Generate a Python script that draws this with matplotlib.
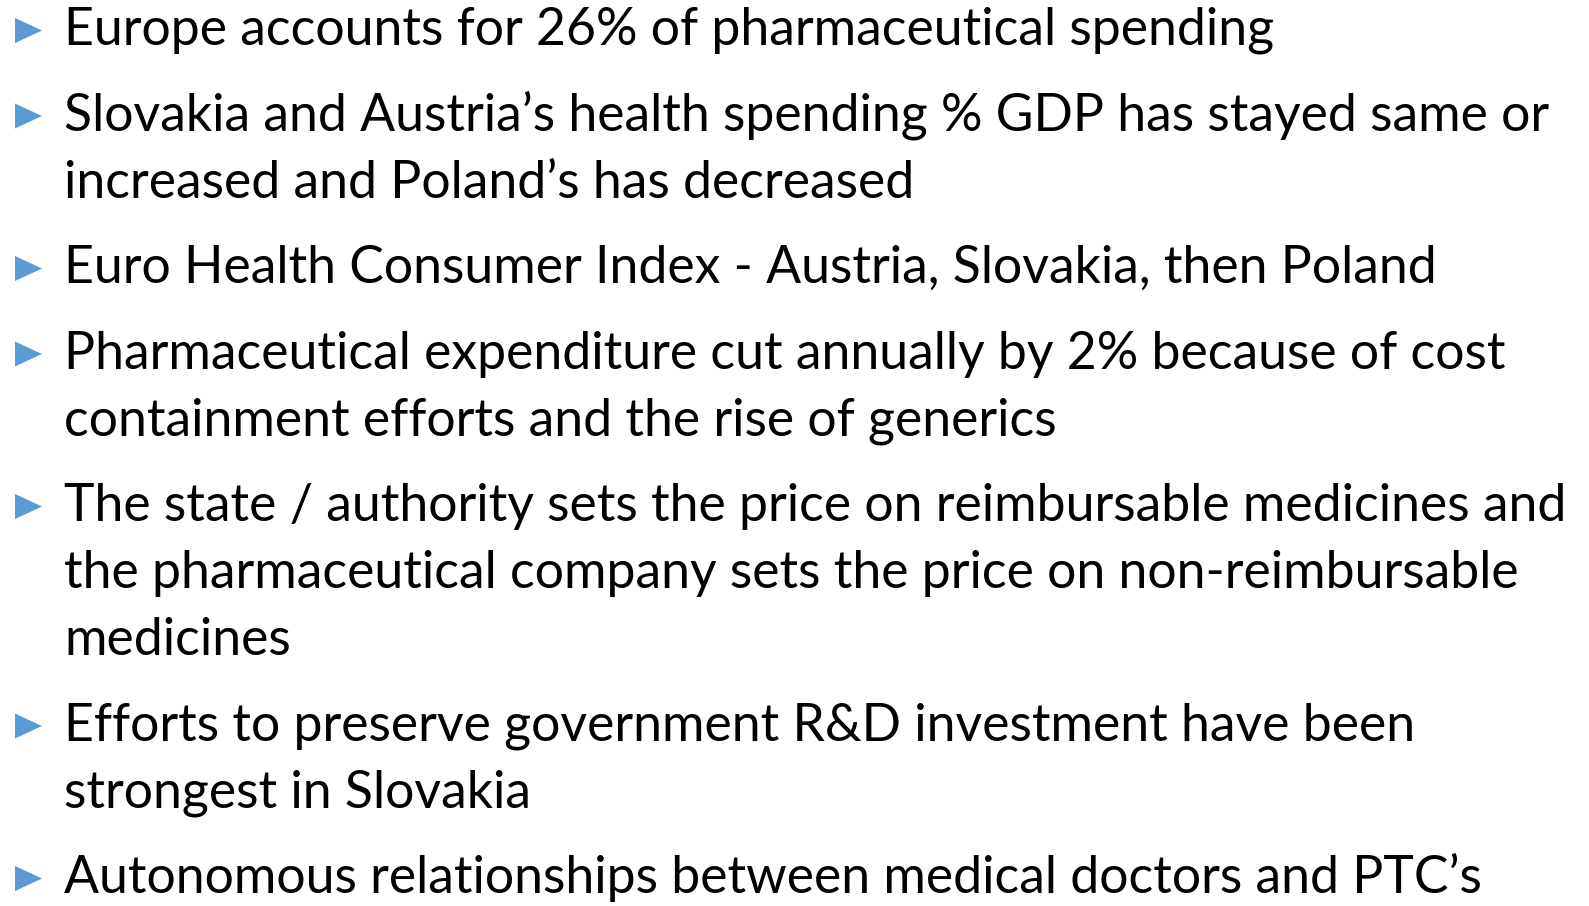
import matplotlib
matplotlib.use("Agg")
import matplotlib.pyplot as plt
from matplotlib.patches import Polygon

W, H = 1589, 906

# slide bullets, one list of wrapped lines per bullet
bullets = [
    ["Europe accounts for 26% of pharmaceutical spending"],
    ["Slovakia and Austria\u2019s health spending % GDP has stayed same or",
     "increased and Poland\u2019s has decreased"],
    ["Euro Health Consumer Index - Austria, Slovakia, then Poland"],
    ["Pharmaceutical expenditure cut annually by 2% because of cost",
     "containment efforts and the rise of generics"],
    ["The state / authority sets the price on reimbursable medicines and",
     "the pharmaceutical company sets the price on non-reimbursable",
     "medicines"],
    ["Efforts to preserve government R&D investment have been",
     "strongest in Slovakia"],
    ["Autonomous relationships between medical doctors and PTC\u2019s"],
]

bullet_color = "#5B9BD5"
font = "Lato"

fig = plt.figure(figsize=(W / 100, H / 100), dpi=100)
ax = fig.add_axes([0, 0, 1, 1])
ax.set_xlim(0, W)
ax.set_ylim(H, 0)
ax.axis("off")

# size the font so the longest line spans about the same width as on the slide
longest = max((l for b in bullets for l in b), key=len)
probe = ax.text(0, 0, longest, fontsize=10, family=font)
fig.canvas.draw()
w10 = probe.get_window_extent().width
probe.remove()
fs = 10 * 1509 / w10

x_text = 64
y = 45
line_gap = 67
para_gap = 18.5
for b in bullets:
    tri = Polygon([[15, y - 27], [15, y - 2], [42, y - 14.5]],
                  closed=True, color=bullet_color, lw=0)
    ax.add_patch(tri)
    for line in b:
        ax.text(x_text, y, line, fontsize=fs, family=font,
                va="baseline", ha="left", color="black")
        y += line_gap
    y += para_gap

fig.savefig("out.png", dpi=100)
